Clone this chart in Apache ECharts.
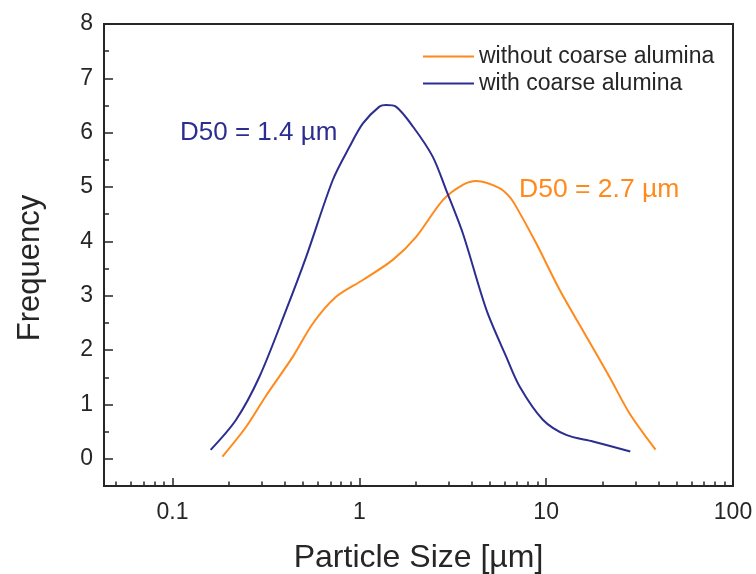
<!DOCTYPE html>
<html>
<head>
<meta charset="utf-8">
<title>Particle size distribution</title>
<script src="https://cdn.jsdelivr.net/npm/echarts@6/dist/echarts.min.js"></script>
<style>
  html, body { margin: 0; padding: 0; background: #ffffff; }
  #chart { width: 756px; height: 574px; }
</style>
</head>
<body>
<div id="chart"></div>
<script>
// Particle size (µm) and frequency for the powder with coarse alumina
const sizeWithCoarse = [0.16, 0.219, 0.292, 0.406, 0.52, 0.721, 0.886, 1.045, 1.28, 1.39, 1.57, 1.94, 2.47, 2.92, 3.58, 4.79, 6.11, 7.21, 9.6, 12.8, 17.8, 28.2];
const freqWithCoarse = [0.165, 0.72, 1.51, 2.74, 3.72, 5.13, 5.74, 6.17, 6.48, 6.51, 6.48, 6.11, 5.56, 4.94, 4.15, 2.74, 1.88, 1.33, 0.72, 0.44, 0.32, 0.135];

// Particle size (µm) and frequency for the powder without coarse alumina
const sizeWithoutCoarse = [0.185, 0.248, 0.318, 0.441, 0.564, 0.751, 1.045, 1.51, 2.02, 2.8, 3.58, 4.24, 5.63, 6.37, 6.91, 8.86, 11.8, 16.4, 21.8, 27.9, 38.5];
const freqWithoutCoarse = [0.04, 0.59, 1.17, 1.88, 2.49, 2.98, 3.29, 3.66, 4.09, 4.76, 5.04, 5.11, 4.98, 4.82, 4.64, 3.96, 3.11, 2.25, 1.51, 0.84, 0.17];

const seriesNames = ['without coarse alumina', 'with coarse alumina'];
const d50Labels = ['D50 = 2.7 \u00b5m', 'D50 = 1.4 \u00b5m'];

// Axis ticks
const xMajor = [0.1, 1, 10, 100];
const xMinor = [0.05, 0.06, 0.07, 0.08, 0.09,
                0.2, 0.3, 0.4, 0.5, 0.6, 0.7, 0.8, 0.9,
                2, 3, 4, 5, 6, 7, 8, 9,
                20, 30, 40, 50, 60, 70, 80, 90];
const yMajor = [0, 1, 2, 3, 4, 5, 6, 7, 8];
const yMinor = [0.5, 1.5, 2.5, 3.5, 4.5, 5.5, 6.5, 7.5];
const xRange = [0.043, 100];
const yRange = [-0.5, 8];

const ORANGE = '#ff8a1c';
const BLUE = '#2c2e8f';
const INK = '#262626';
const FONT = '"Liberation Sans", Arial, sans-serif';

// The size axis is logarithmic: values are placed on a linear axis in log10 units
const lg = v => Math.log10(v);
const pairs = (xs, ys) => xs.map((x, i) => [lg(x), ys[i]]);
const fmtSize = v => String(parseFloat(Math.pow(10, v).toPrecision(6)));

const chart = echarts.init(document.getElementById('chart'), null, { renderer: 'canvas' });

const baseX = {
  type: 'value',
  min: lg(xRange[0]),
  max: lg(xRange[1]),
  splitLine: { show: false }
};
const baseY = {
  type: 'value',
  min: yRange[0],
  max: yRange[1],
  splitLine: { show: false }
};

chart.setOption({
  backgroundColor: '#ffffff',
  animation: false,
  grid: {
    left: 104, right: 23, top: 24, bottom: 88,
    outerBoundsMode: 'none',
    containLabel: false,
    show: true, borderColor: INK, borderWidth: 2, backgroundColor: 'transparent'
  },
  legend: {
    orient: 'vertical',
    left: 423, top: 45,
    padding: 0,
    itemGap: 4,
    itemWidth: 51, itemHeight: 2,
    icon: 'rect',
    textStyle: { fontFamily: FONT, fontSize: 23, color: INK },
    data: seriesNames
  },
  xAxis: [
    Object.assign({}, baseX, {
      position: 'bottom',
      name: 'Particle Size [\u00b5m]',
      nameLocation: 'middle',
      nameGap: 56,
      nameTextStyle: { fontFamily: FONT, fontSize: 32, color: INK },
      axisLine: { show: true, onZero: false, lineStyle: { color: INK, width: 2 } },
      axisTick: { show: true, inside: true, length: 8, customValues: xMajor.map(lg), lineStyle: { color: INK, width: 1.5 } },
      axisLabel: { show: true, margin: 15, customValues: xMajor.map(lg), formatter: fmtSize,
                   fontFamily: FONT, fontSize: 23, color: INK }
    }),
    Object.assign({}, baseX, {
      position: 'bottom',
      axisLine: { show: false, onZero: false },
      axisTick: { show: true, inside: true, length: 4.5, customValues: xMinor.map(lg), lineStyle: { color: INK, width: 1.5 } },
      axisLabel: { show: false }
    })
  ],
  yAxis: [
    Object.assign({}, baseY, {
      position: 'left',
      name: 'Frequency',
      nameLocation: 'middle',
      nameGap: 58,
      nameRotate: 90,
      nameTextStyle: { fontFamily: FONT, fontSize: 31, color: INK, padding: [0, 26, 0, 0] },
      axisLine: { show: true, onZero: false, lineStyle: { color: INK, width: 2 } },
      axisTick: { show: true, inside: true, length: 9, customValues: yMajor, lineStyle: { color: INK, width: 1.5 } },
      axisLabel: { show: true, margin: 11, customValues: yMajor, fontFamily: FONT, fontSize: 23, color: INK }
    }),
    Object.assign({}, baseY, {
      position: 'left',
      axisLine: { show: false, onZero: false },
      axisTick: { show: true, inside: true, length: 5, customValues: yMinor, lineStyle: { color: INK, width: 1.5 } },
      axisLabel: { show: false }
    })
  ],
  series: [
    {
      name: seriesNames[0],
      type: 'line',
      xAxisIndex: 0, yAxisIndex: 0,
      data: pairs(sizeWithoutCoarse, freqWithoutCoarse),
      smooth: 0.3,
      symbol: 'none',
      color: ORANGE,
      lineStyle: { color: ORANGE, width: 2 },
      z: 3
    },
    {
      name: seriesNames[1],
      type: 'line',
      xAxisIndex: 0, yAxisIndex: 0,
      data: pairs(sizeWithCoarse, freqWithCoarse),
      smooth: 0.3,
      symbol: 'none',
      color: BLUE,
      lineStyle: { color: BLUE, width: 2 },
      z: 4
    }
  ],
  graphic: [
    {
      type: 'text', x: 519, y: 190, z: 10,
      style: { text: d50Labels[0], fill: ORANGE, font: '26.5px ' + FONT, textVerticalAlign: 'middle' }
    },
    {
      type: 'text', x: 180, y: 133, z: 10,
      style: { text: d50Labels[1], fill: BLUE, font: '26px ' + FONT, textVerticalAlign: 'middle' }
    }
  ]
});
</script>
</body>
</html>
